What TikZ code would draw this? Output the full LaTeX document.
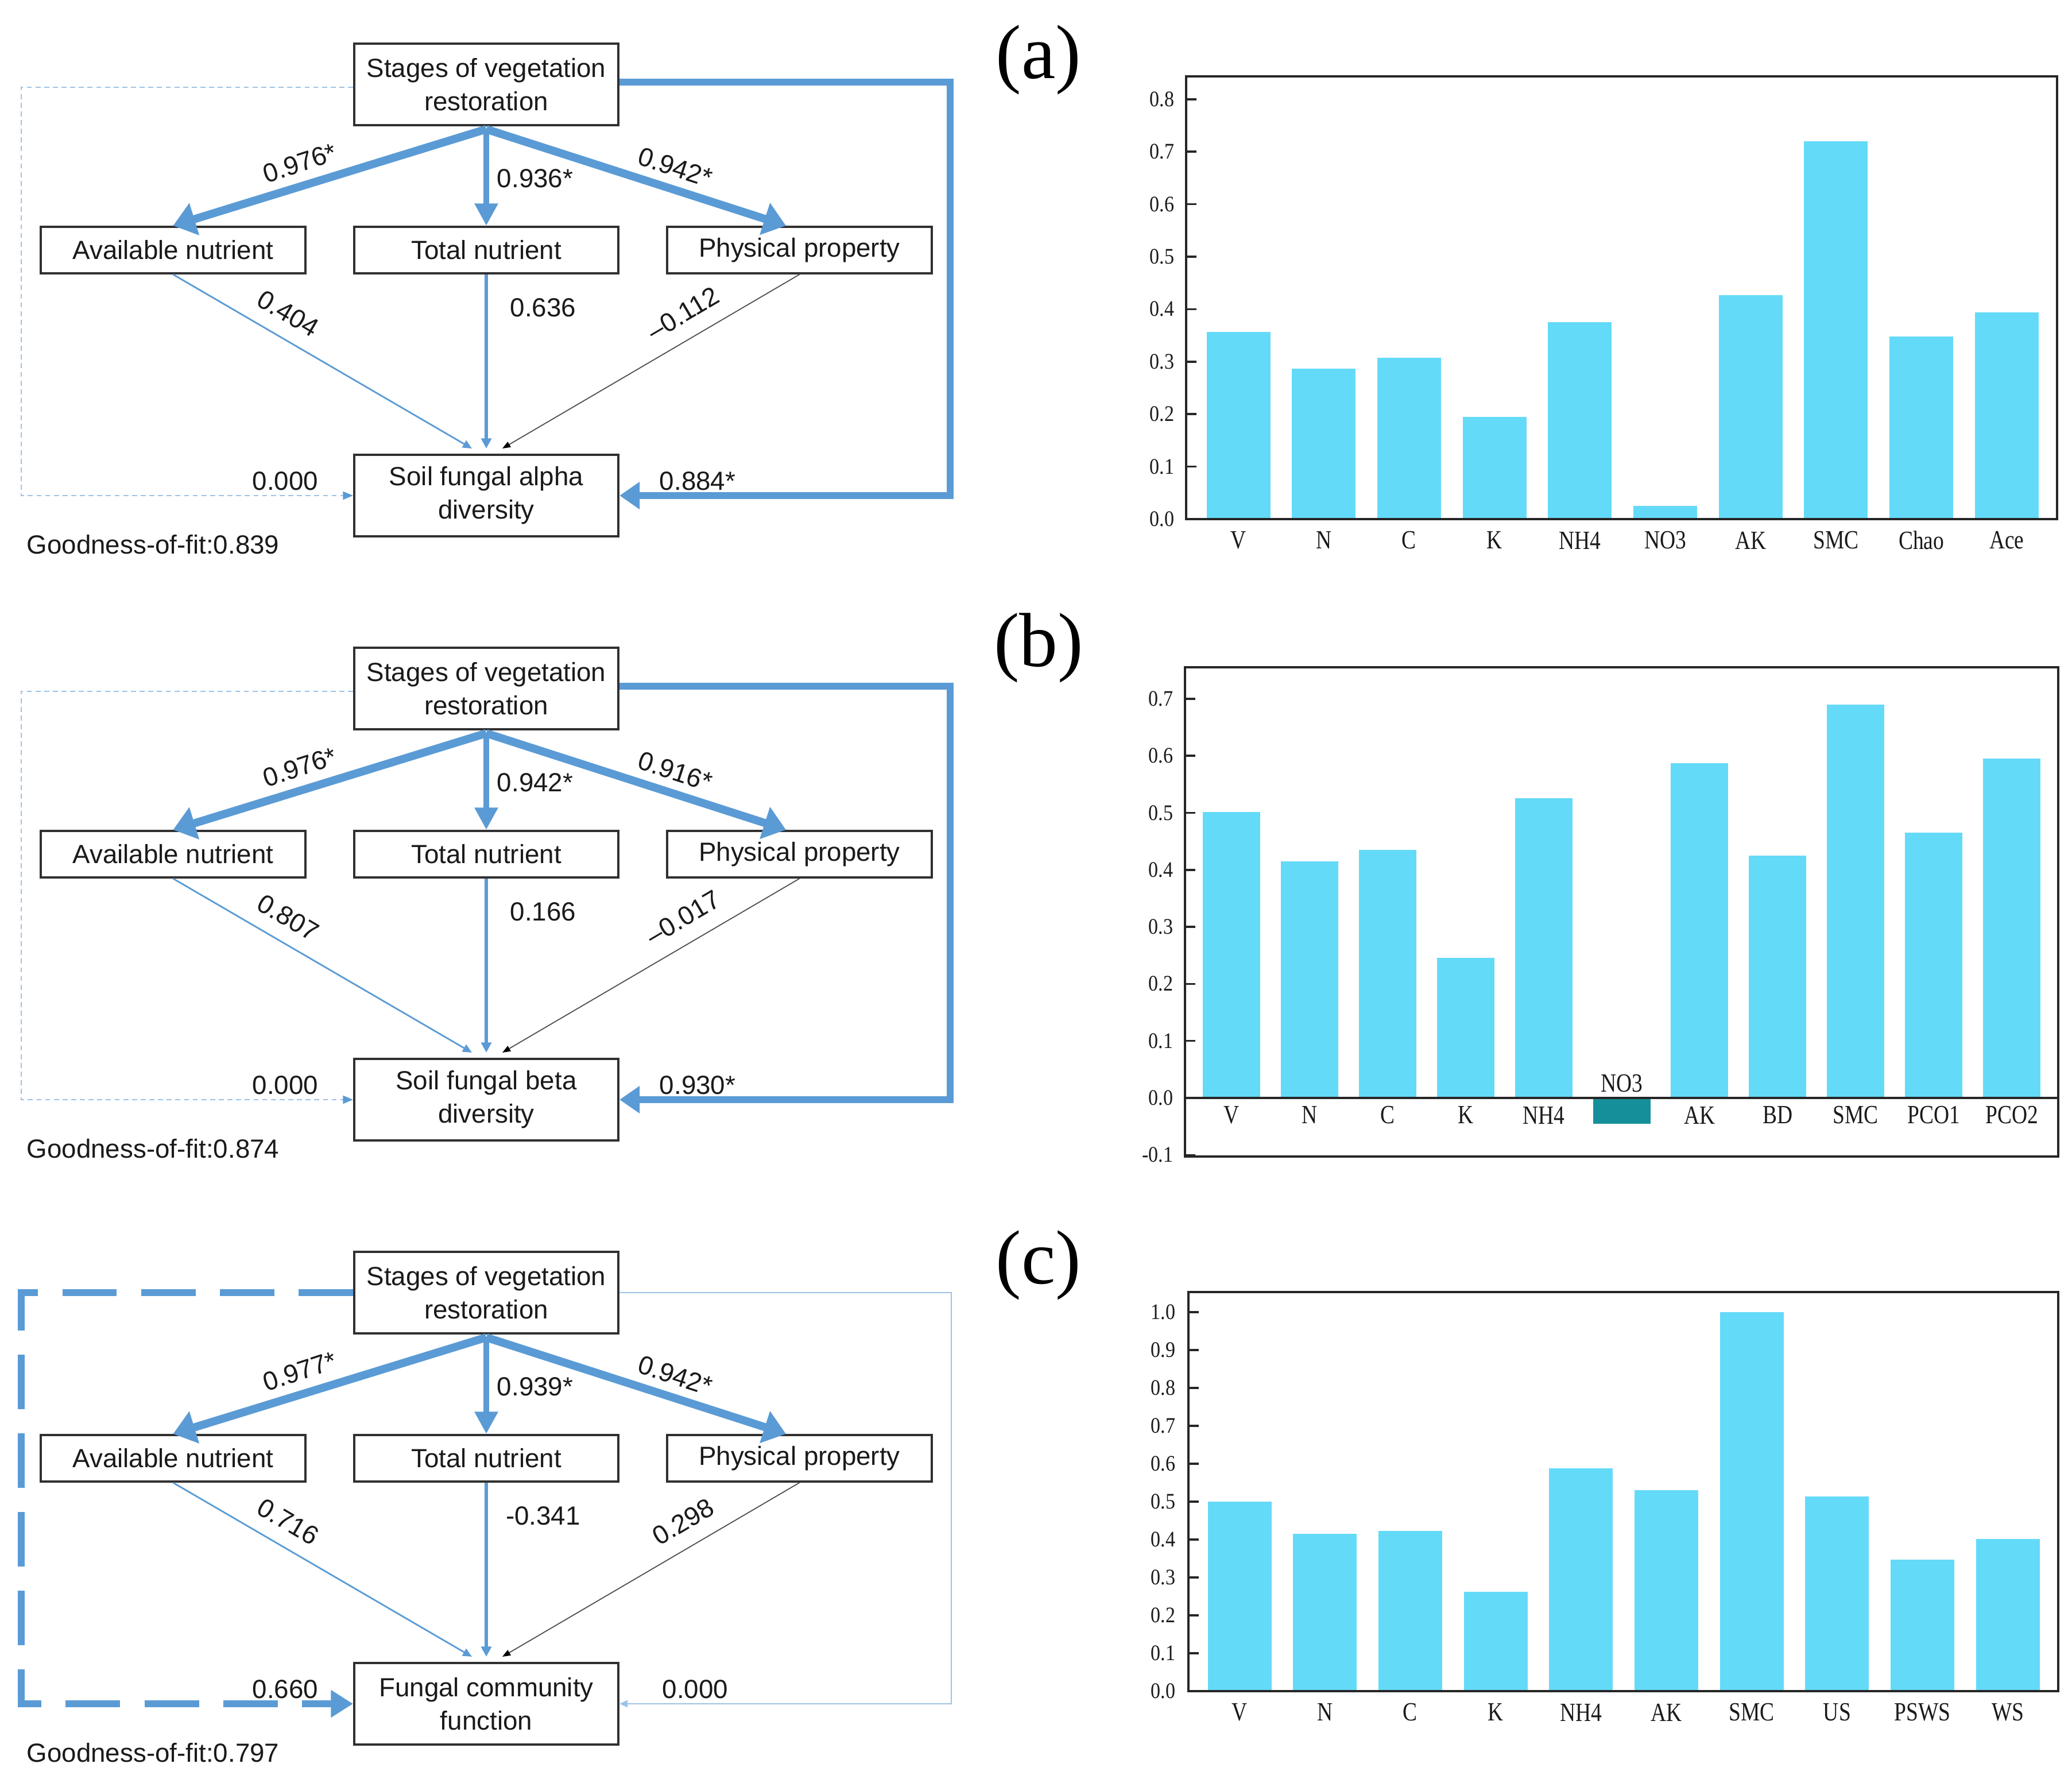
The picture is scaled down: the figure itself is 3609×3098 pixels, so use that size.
\documentclass[tikz,border=0pt]{standalone}
\usepackage{graphicx}
\usepackage{fontspec}
\setmainfont{Liberation Serif}
\newfontfamily\arialf{Liberation Sans}
\usetikzlibrary{arrows.meta}
\definecolor{pblue}{HTML}{5B9BD5}
\definecolor{lblue}{HTML}{9DC3E6}
\definecolor{barc}{HTML}{64DAF9}
\definecolor{tealc}{HTML}{15909A}
\definecolor{boxline}{HTML}{303030}
\definecolor{txt}{HTML}{1A1A1A}
\newcommand{\condx}[1]{\scalebox{0.82}[1]{#1}}
\newcommand{\condy}[1]{\scalebox{0.88}[1]{#1}}
\tikzset{
 semtext/.style={font=\arialf\fontsize{13}{16.5}\selectfont, text=txt},
 box/.style={semtext, draw=boxline, line width=1.1pt, minimum width=4.6cm, inner sep=0pt, align=center},
 onebox/.style={box, minimum height=0.81cm},
 twobox/.style={box, minimum height=1.42cm},
 lab/.style={semtext, inner sep=0pt},
 bigarr/.style={pblue, line width=4pt, -{Triangle[length=11pt,width=16pt]}},
 midarr/.style={pblue, line width=3pt, -{Triangle[length=11pt,width=11pt]}},
 thinarr/.style={pblue, line width=0.8pt, -{Triangle[length=4.5pt,width=4pt]}},
 medarr/.style={pblue, line width=1.5pt, -{Triangle[length=5pt,width=5pt]}},
 greyarr/.style={black!70, line width=0.5pt, -{Triangle[length=4pt,width=3pt,color=black]}},
 sidearr/.style={pblue, line width=3.2pt, -{Triangle[length=10pt,width=13pt]}},
 dotarr/.style={lblue, line width=0.7pt, dash pattern=on 2.5pt off 1.8pt, -{Triangle[length=5pt,width=4pt,color=pblue]}},
 dasharr/.style={pblue, line width=3.2pt, dash pattern=on 27pt off 12pt, -{Triangle[length=11pt,width=13pt]}},
 lthinarr/.style={lblue, line width=0.6pt, -{Triangle[length=4pt,width=3.5pt]}},
 gof/.style={semtext, inner sep=0pt, anchor=west},
 axisline/.style={black!85, line width=1pt},
 xtick/.style={font=\fontsize{13}{13}\selectfont, text=txt, inner sep=0pt},
 ytick/.style={font=\fontsize{11}{11}\selectfont, text=txt, inner sep=0pt, anchor=east},
 plab/.style={font=\fontsize{38}{38}\selectfont, text=black, inner sep=0pt},
}
\newcommand{\sempanel}[9]{%
 \begin{scope}[shift={(0,#2)}]
  \node[twobox] (s#1) at (847,147) {Stages of vegetation\\restoration};
  \node[onebox] (an#1) at (301.5,435.5) {Available nutrient};
  \node[onebox] (tn#1) at (847,435.5) {Total nutrient};
  \node[onebox] (pp#1) at (1392.5,435.5) {Physical property};
  \node[twobox] (d#1) at (847,863) {#3};
  \draw[bigarr] ([yshift=-0.05cm]s#1.south) -- (an#1.north);
  \draw[midarr] ([yshift=-0.05cm]s#1.south) -- (tn#1.north);
  \draw[bigarr] ([yshift=-0.05cm]s#1.south) -- ([xshift=-0.235cm]pp#1.north);
  \draw[thinarr] (an#1.south) -- ([xshift=-0.25cm,yshift=0.09cm]d#1.north);
  \draw[medarr] (tn#1.south) -- ([yshift=0.09cm]d#1.north);
  \draw[greyarr] (pp#1.south) -- ([xshift=0.28cm,yshift=0.09cm]d#1.north);
  \node[lab, rotate=18] (la#1) at (522,284) {#4};
  \node[lab] (lb#1) at (932,311) {#5};
  \node[lab, rotate=-18] (lc#1) at (1176,291) {#6};
  \node[lab, rotate=-30.5] (ld#1) at (502,546) {#7};
  \node[lab] (le#1) at (946,536) {#8};
  \node[lab, rotate=30.5] (lf#1) at (1190,546) {#9};
 \end{scope}}
\begin{document}
\begin{tikzpicture}[x=0.01cm, y=-0.01cm]
\useasboundingbox (0,0) rectangle (3609,3098);
\fill[white] (0,0) rectangle (3609,3098);

% ---------- path diagrams ----------
\sempanel{A}{0}{Soil fungal alpha\\diversity}{0.976*}{0.936*}{0.942*}{0.404}{0.636}{–0.112}
\draw[sidearr] ([yshift=0.04cm]sA.east) -- ++(576,0) |- (dA.east);
\draw[dotarr] ([yshift=-0.05cm]sA.west) -- ++(-578,0) |- (dA.west);
\node[lab] (zA) at (497,838) {0.000};
\node[lab] (rA) at (1215,838) {0.884*};
\node[gof] (gA) at (46,948) {Goodness-of-fit:0.839};

\sempanel{B}{1052}{Soil fungal beta\\diversity}{0.976*}{0.942*}{0.916*}{0.807}{0.166}{–0.017}
\draw[sidearr] ([yshift=0.04cm]sB.east) -- ++(576,0) |- (dB.east);
\draw[dotarr] ([yshift=-0.05cm]sB.west) -- ++(-578,0) |- (dB.west);
\node[lab] (zB) at (497,1890) {0.000};
\node[lab] (rB) at (1215,1890) {0.930*};
\node[gof] (gB) at (46,2000) {Goodness-of-fit:0.874};

\sempanel{C}{2104}{Fungal community\\function}{0.977*}{0.939*}{0.942*}{0.716}{-0.341}{0.298}
\draw[dasharr] (sC.west) -- ++(-578,0) |- (dC.west);
\draw[lthinarr] (sC.east) -- ++(578,0) |- (dC.east);
\node[lab] (zC) at (497,2942) {0.660};
\node[lab] (rC) at (1211,2942) {0.000};
\node[gof] (gC) at (46,3052) {Goodness-of-fit:0.797};

% ---------- panel letters ----------
\node[plab] (pa) at (1809,104) {(a)};
\node[plab] (pb) at (1809,1128) {(b)};
\node[plab] (pc) at (1809,2203) {(c)};

% ---------- bar chart (a) ----------
\foreach \v [count=\i from 0] in {0.357,0.287,0.307,0.195,0.375,0.025,0.427,0.72,0.348,0.394}
  \fill[barc] ({2101.5+148.7*\i},904) rectangle ({2212.5+148.7*\i},{904-914*\v});
\draw[axisline] (2066,133) rectangle (3583,904);
\foreach \t in {0,...,8} {
  \draw[axisline] (2066,{904-91.4*\t}) -- ++(18,0);
  \node[ytick] (ya\t) at (2046,{904-91.4*\t}) {\condy{0.\t}};
}
\foreach \l [count=\i from 0] in {V,N,C,K,NH4,NO3,AK,SMC,Chao,Ace}
  \node[xtick] (xa\i) at ({2157+148.7*\i},941) {\condx{\l}};

% ---------- bar chart (b) ----------
\foreach \v/\c [count=\i from 0] in {0.502/barc,0.415/barc,0.435/barc,0.246/barc,0.526/barc,-0.045/tealc,0.587/barc,0.425/barc,0.69/barc,0.465/barc,0.595/barc}
  \fill[\c] ({2095+135.9*\i},1912) rectangle ({2195+135.9*\i},{1912-993*\v});
\draw[axisline] (2064,1162) rectangle (3585,2014);
\draw[axisline] (2064,1912) -- (3585,1912);
\foreach \t/\lab in {-1/-0.1,0/0.0,1/0.1,2/0.2,3/0.3,4/0.4,5/0.5,6/0.6,7/0.7} {
  \draw[axisline] (2064,{1912-99.3*\t}) -- ++(18,0);
  \node[ytick] (yb\t) at (2044,{1912-99.3*\t}) {\condy{\lab}};
}
\foreach \l [count=\i from 0] in {V,N,C,K,NH4,,AK,BD,SMC,PCO1,PCO2}
  \node[xtick] (xb\i) at ({2145+135.9*\i},1942) {\condx{\l}};
\node[xtick] (xbno) at ({2145+135.9*5},1887) {\condx{NO3}};

% ---------- bar chart (c) ----------
\foreach \v [count=\i from 0] in {0.500,0.415,0.423,0.262,0.588,0.531,1.0,0.513,0.347,0.401}
  \fill[barc] ({2103.5+148.7*\i},2945) rectangle ({2214.5+148.7*\i},{2945-660*\v});
\draw[axisline] (2070,2250) rectangle (3585,2945);
\foreach \t/\lab in {0/0.0,1/0.1,2/0.2,3/0.3,4/0.4,5/0.5,6/0.6,7/0.7,8/0.8,9/0.9,10/1.0} {
  \draw[axisline] (2070,{2945-66*\t}) -- ++(18,0);
  \node[ytick] (yc\t) at (2048,{2945-66*\t}) {\condy{\lab}};
}
\foreach \l [count=\i from 0] in {V,N,C,K,NH4,AK,SMC,US,PSWS,WS}
  \node[xtick] (xc\i) at ({2159+148.7*\i},2982) {\condx{\l}};
\end{tikzpicture}
\end{document}
